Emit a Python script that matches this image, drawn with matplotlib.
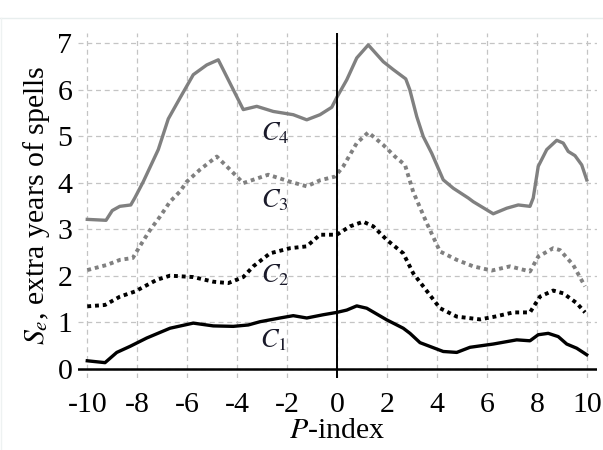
import numpy as np
import matplotlib
matplotlib.use("Agg")
import matplotlib.pyplot as plt
from matplotlib.lines import Line2D

plt.rcParams["font.family"] = ["Liberation Serif", "DejaVu Serif"]
plt.rcParams["mathtext.fontset"] = "stix"
plt.rcParams["axes.unicode_minus"] = False

# curves (P-index, S_e)
c4_x = [-10, -9.25, -9.0, -8.7, -8.26, -8.1, -7.76, -7.16, -6.76, -6.29, -5.76, -5.22, -4.76,
        -3.76, -3.22, -2.56, -1.76, -1.22, -0.69, -0.22, 0.0, 0.38, 0.78, 1.24, 1.84, 2.24,
        2.74, 2.9, 3.18, 3.44, 3.78, 4.24, 4.64, 5.24, 5.44, 6.24, 6.78, 7.24, 7.71, 7.84,
        8.04, 8.38, 8.78, 9.04, 9.24, 9.51, 9.78, 9.98]
c4_y = [3.21, 3.19, 3.40, 3.49, 3.52, 3.67, 4.02, 4.71, 5.37, 5.82, 6.32, 6.53, 6.64,
        5.57, 5.64, 5.53, 5.46, 5.35, 5.46, 5.62, 5.85, 6.21, 6.68, 6.96, 6.60, 6.43,
        6.23, 6.0, 5.42, 4.99, 4.63, 4.06, 3.88, 3.67, 3.59, 3.33, 3.45, 3.52, 3.49, 3.67,
        4.35, 4.71, 4.91, 4.85, 4.67, 4.58, 4.38, 4.06]

c3_x = [-10, -9.22, -8.69, -8.18, -7.9, -7.49, -7.09, -6.69, -6.29, -6.02, -5.49, -4.82,
        -4.29, -3.76, -2.76, -1.89, -1.22, -0.69, -0.09, 0.24, 0.78, 1.24, 1.84, 2.31, 2.71,
        3.04, 3.58, 4.11, 4.78, 5.44, 6.18, 6.91, 7.71, 8.04, 8.64, 8.91, 9.44, 9.91]
c3_y = [2.12, 2.23, 2.34, 2.38, 2.63, 2.98, 3.27, 3.59, 3.81, 4.02, 4.28, 4.56,
        4.28, 3.99, 4.17, 4.02, 3.92, 4.05, 4.13, 4.35, 4.85, 5.08, 4.81, 4.56, 4.38,
        3.80, 3.13, 2.52, 2.34, 2.20, 2.11, 2.20, 2.09, 2.41, 2.59, 2.55, 2.23, 1.77]

c2_x = [-10, -9.29, -8.69, -8.09, -7.22, -6.69, -5.76, -4.96, -4.36, -3.76, -3.36, -2.69,
        -1.89, -1.22, -0.69, -0.02, 0.51, 1.04, 1.44, 1.98, 2.64, 3.04, 3.44, 4.11, 4.78,
        5.71, 6.31, 7.04, 7.71, 8.11, 8.64, 9.04, 9.58, 9.91]
c2_y = [1.34, 1.37, 1.55, 1.66, 1.91, 2.00, 1.97, 1.87, 1.84, 1.97, 2.20, 2.48,
        2.59, 2.63, 2.88, 2.88, 3.06, 3.16, 3.06, 2.77, 2.48, 2.05, 1.77, 1.30, 1.12,
        1.06, 1.12, 1.21, 1.21, 1.55, 1.68, 1.62, 1.41, 1.21]

c1_x = [-10, -9.29, -8.82, -8.29, -7.62, -6.69, -5.76, -4.96, -4.16, -3.56, -3.09, -2.29,
        -1.76, -1.22, -0.56, -0.02, 0.38, 0.78, 1.18, 1.98, 2.64, 2.91, 3.31, 4.24, 4.78,
        5.31, 6.24, 7.18, 7.71, 8.04, 8.44, 8.84, 9.18, 9.58, 9.98]
c1_y = [0.17, 0.13, 0.35, 0.48, 0.66, 0.87, 0.98, 0.92, 0.91, 0.94, 1.01, 1.09,
        1.14, 1.09, 1.16, 1.21, 1.26, 1.35, 1.30, 1.05, 0.87, 0.76, 0.56, 0.37, 0.35,
        0.46, 0.53, 0.62, 0.60, 0.73, 0.76, 0.69, 0.53, 0.44, 0.30]

labels = ["$C_4$", "$C_3$", "$C_2$", "$C_1$"]
label_x = [-2.5, -2.5, -2.5, -2.55]
label_y = [5.07, 3.63, 2.02, 0.62]

fig = plt.figure(figsize=(6.03, 4.5), dpi=100)
ax = fig.add_axes([0.1294, 0.16, 0.8602, 0.766])

gray = "#808080"
dots = (0, (1, 1))
ax.plot(c4_x, c4_y, color=gray, lw=2.4, solid_joinstyle="round")
ax.plot(c3_x, c3_y, color=gray, lw=2.8, linestyle=dots)
ax.plot(c2_x, c2_y, color="black", lw=2.8, linestyle=dots)
ax.plot(c1_x, c1_y, color="black", lw=2.4, solid_joinstyle="round")

for t, x, y in zip(labels, label_x, label_y):
    ax.text(x, y, t, fontsize=19, ha="center", va="center", color="#1a1a2a")

ax.axhline(0, color="black", lw=1.8, zorder=3)
ax.axvline(0, color="black", lw=1.4, zorder=3)

ax.set_xlim(-10.37, 10.38)
ax.set_ylim(-0.2, 7.21)
ax.set_xticks(np.arange(-10, 11, 2))
ax.set_yticks(np.arange(0, 8, 1))
ax.grid(True, color="#c4c4c4", lw=0.9, linestyle=(0, (4, 3)))
ax.set_axisbelow(True)
for s in ax.spines.values():
    s.set_visible(False)
ax.tick_params(length=0, labelsize=21.5)
ax.tick_params(axis="x", pad=10)
ax.tick_params(axis="y", pad=4)

ax.set_xlabel("$P$-index", fontsize=21.5, labelpad=0)
ax.set_ylabel("$S_e$, extra years of spells", fontsize=21.5, labelpad=4)

# faint frame of the original image
fig.add_artist(Line2D([0, 1], [0.96, 0.96], color="#e8eeee", lw=1))
fig.add_artist(Line2D([0.002, 0.002], [0, 0.96], color="#eef2f2", lw=1))

fig.savefig("out.png", dpi=100)
